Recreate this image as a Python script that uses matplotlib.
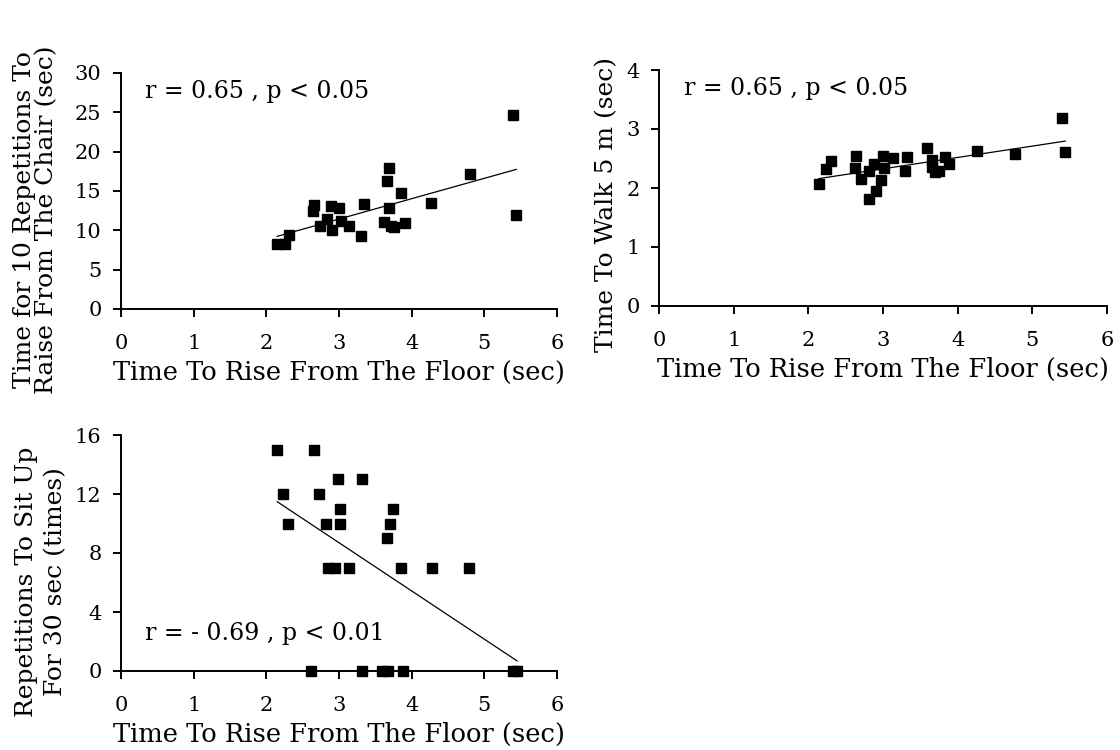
import numpy as np
import matplotlib
matplotlib.use("Agg")
import matplotlib.pyplot as plt

plt.rcParams["font.family"] = ["DejaVu Serif"]

# Time to rise from the floor (sec), one entry per subject, for each panel
rise_chair = [5.40, 5.44, 3.69, 3.66, 3.85, 4.80, 4.27, 3.69, 3.34, 2.66, 2.64, 2.89,
              3.00, 2.83, 3.03, 2.74, 2.91, 3.14, 3.30, 3.62, 3.72, 3.76, 3.91,
              2.31, 2.15, 2.25]
chair_time = [24.6, 11.9, 17.9, 16.3, 14.8, 17.1, 13.5, 12.8, 13.3, 13.2, 12.4, 13.1,
              12.9, 11.5, 11.2, 10.5, 10.0, 10.6, 9.3, 11.0, 10.6, 10.4, 10.9,
              9.4, 8.3, 8.3]

rise_walk = [5.40, 5.44, 4.77, 4.26, 3.59, 3.83, 3.89, 3.66, 3.66, 3.69, 3.75, 3.32,
             3.29, 3.13, 3.00, 3.02, 2.88, 2.81, 2.71, 2.97, 2.91, 2.81, 2.64, 2.62,
             2.30, 2.23, 2.14]
walk_time = [3.19, 2.61, 2.58, 2.62, 2.67, 2.52, 2.40, 2.47, 2.36, 2.27, 2.28, 2.52,
             2.28, 2.50, 2.55, 2.34, 2.40, 2.28, 2.16, 2.13, 1.95, 1.82, 2.55, 2.34,
             2.46, 2.33, 2.07]

rise_situp = [2.15, 2.66, 2.99, 3.31, 2.23, 2.73, 3.02, 3.75, 2.30, 2.82, 3.02, 3.70,
              3.66, 2.85, 2.95, 3.14, 3.86, 4.28, 4.79,
              2.61, 3.32, 3.59, 3.67, 3.88, 5.40, 5.45]
situp_count = [15, 15, 13, 13, 12, 12, 11, 11, 10, 10, 10, 10,
               9, 7, 7, 7, 7, 7, 7,
               0, 0, 0, 0, 0, 0, 0]

x_ticks = [0, 1, 2, 3, 4, 5, 6]
chair_ticks = [0, 5, 10, 15, 20, 25, 30]
walk_ticks = [0, 1, 2, 3, 4]
situp_ticks = [0, 4, 8, 12, 16]

x_label = "Time To Rise From The Floor (sec)"
chair_label = ["Time for 10 Repetitions To", "Raise From The Chair (sec)"]
walk_label = ["Time To Walk 5 m (sec)"]
situp_label = ["Repetitions To Sit Up", "For 30 sec (times)"]
stats = ["r = 0.65 , p < 0.05", "r = 0.65 , p < 0.05", "r = - 0.69 , p < 0.01"]

W, H = 1120, 750
fig = plt.figure(figsize=(W / 100, H / 100), dpi=100)


def px_axes(left, top, right, bottom):
    return fig.add_axes([left / W, 1 - bottom / H, (right - left) / W, (bottom - top) / H])


def panel(ax, xs, ys, yticks, note, note_xy):
    ax.set_xlim(0, 6)
    ax.set_ylim(yticks[0], yticks[-1])
    ax.set_xticks(x_ticks)
    ax.set_yticks(yticks)
    for s in ("top", "right"):
        ax.spines[s].set_visible(False)
    for s in ("left", "bottom"):
        ax.spines[s].set_linewidth(1.4)
    ax.tick_params(direction="out", length=6, width=1.4, labelsize=15)
    ax.tick_params(axis="x", pad=12)
    ax.tick_params(axis="y", pad=8)
    ax.plot(xs, ys, "s", color="black", markersize=7.5, clip_on=False, zorder=3)
    slope, icpt = np.polyfit(xs, ys, 1)
    fx = np.array([min(xs), max(xs)])
    ax.plot(fx, slope * fx + icpt, color="black", lw=0.9, clip_on=False)
    ax.text(note_xy[0], note_xy[1], note, transform=ax.transAxes, fontsize=17,
            ha="left", va="center")
    ax.set_xlabel(x_label, fontsize=18.5, labelpad=5)


def y_title(lines, baselines_px, center_px):
    # rotated title lines, each anchored at its baseline centre (pixel coords)
    for text, bx in zip(lines, baselines_px):
        fig.text(bx / W, 1 - center_px / H, text, rotation=90, rotation_mode="anchor",
                 ha="center", va="baseline", fontsize=18)


ax1 = px_axes(121, 73, 557, 309)
panel(ax1, rise_chair, chair_time, chair_ticks, stats[0], (0.055, 0.92))

ax2 = px_axes(659, 70, 1107, 306)
panel(ax2, rise_walk, walk_time, walk_ticks, stats[1], (0.055, 0.92))

ax3 = px_axes(121, 435, 557, 671)
panel(ax3, rise_situp, situp_count, situp_ticks, stats[2], (0.055, 0.16))

y_title(chair_label, [31, 53], 220)
y_title(walk_label, [613], 205)
y_title(situp_label, [33, 62], 582)

fig.savefig("out.png", dpi=100, facecolor="white")
